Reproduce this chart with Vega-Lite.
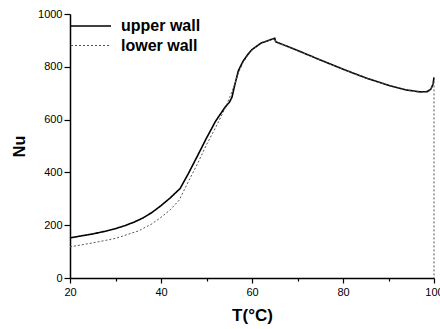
{
  "$schema": "https://vega.github.io/schema/vega-lite/v6.json",
  "autosize": "none",
  "width": 364,
  "height": 264,
  "padding": {"left": 70, "top": 14, "right": 6, "bottom": 51},
  "background": "white",
  "config": {
    "view": {"stroke": null},
    "font": "Liberation Sans"
  },
  "datasets": {
    "curves": [
      {"series": "upper wall", "T": 20, "Nu": 152},
      {"series": "upper wall", "T": 22, "Nu": 158},
      {"series": "upper wall", "T": 25, "Nu": 167},
      {"series": "upper wall", "T": 28, "Nu": 178},
      {"series": "upper wall", "T": 30, "Nu": 187},
      {"series": "upper wall", "T": 32, "Nu": 198},
      {"series": "upper wall", "T": 34, "Nu": 211},
      {"series": "upper wall", "T": 36, "Nu": 227},
      {"series": "upper wall", "T": 38, "Nu": 248},
      {"series": "upper wall", "T": 40, "Nu": 274},
      {"series": "upper wall", "T": 42, "Nu": 303},
      {"series": "upper wall", "T": 44.2, "Nu": 339},
      {"series": "upper wall", "T": 46, "Nu": 395},
      {"series": "upper wall", "T": 48, "Nu": 462},
      {"series": "upper wall", "T": 50, "Nu": 530},
      {"series": "upper wall", "T": 52, "Nu": 594},
      {"series": "upper wall", "T": 54, "Nu": 645},
      {"series": "upper wall", "T": 55, "Nu": 665},
      {"series": "upper wall", "T": 55.6, "Nu": 685},
      {"series": "upper wall", "T": 56.2, "Nu": 730},
      {"series": "upper wall", "T": 57, "Nu": 785},
      {"series": "upper wall", "T": 58, "Nu": 820},
      {"series": "upper wall", "T": 59, "Nu": 845},
      {"series": "upper wall", "T": 60, "Nu": 865},
      {"series": "upper wall", "T": 62, "Nu": 890},
      {"series": "upper wall", "T": 64, "Nu": 902},
      {"series": "upper wall", "T": 65, "Nu": 908},
      {"series": "upper wall", "T": 65.2, "Nu": 895},
      {"series": "upper wall", "T": 70, "Nu": 862},
      {"series": "upper wall", "T": 75, "Nu": 826},
      {"series": "upper wall", "T": 80, "Nu": 791},
      {"series": "upper wall", "T": 85, "Nu": 758},
      {"series": "upper wall", "T": 90, "Nu": 730},
      {"series": "upper wall", "T": 94, "Nu": 712},
      {"series": "upper wall", "T": 97, "Nu": 705},
      {"series": "upper wall", "T": 98.5, "Nu": 706},
      {"series": "upper wall", "T": 99.3, "Nu": 715},
      {"series": "upper wall", "T": 99.8, "Nu": 735},
      {"series": "upper wall", "T": 100, "Nu": 760},
      {"series": "lower wall", "T": 20, "Nu": 118},
      {"series": "lower wall", "T": 25, "Nu": 133},
      {"series": "lower wall", "T": 30, "Nu": 150},
      {"series": "lower wall", "T": 35, "Nu": 178},
      {"series": "lower wall", "T": 38, "Nu": 205},
      {"series": "lower wall", "T": 40, "Nu": 230},
      {"series": "lower wall", "T": 42, "Nu": 258},
      {"series": "lower wall", "T": 44, "Nu": 295},
      {"series": "lower wall", "T": 46, "Nu": 365},
      {"series": "lower wall", "T": 48, "Nu": 432},
      {"series": "lower wall", "T": 50, "Nu": 505},
      {"series": "lower wall", "T": 52, "Nu": 570},
      {"series": "lower wall", "T": 54, "Nu": 640},
      {"series": "lower wall", "T": 55, "Nu": 680},
      {"series": "lower wall", "T": 56, "Nu": 725},
      {"series": "lower wall", "T": 57, "Nu": 775},
      {"series": "lower wall", "T": 58, "Nu": 815},
      {"series": "lower wall", "T": 59, "Nu": 842},
      {"series": "lower wall", "T": 60, "Nu": 863},
      {"series": "lower wall", "T": 62, "Nu": 889},
      {"series": "lower wall", "T": 64, "Nu": 901},
      {"series": "lower wall", "T": 65, "Nu": 906},
      {"series": "lower wall", "T": 65.2, "Nu": 894},
      {"series": "lower wall", "T": 70, "Nu": 861},
      {"series": "lower wall", "T": 75, "Nu": 825},
      {"series": "lower wall", "T": 80, "Nu": 790},
      {"series": "lower wall", "T": 85, "Nu": 757},
      {"series": "lower wall", "T": 90, "Nu": 729},
      {"series": "lower wall", "T": 94, "Nu": 711},
      {"series": "lower wall", "T": 97, "Nu": 704},
      {"series": "lower wall", "T": 98.5, "Nu": 705},
      {"series": "lower wall", "T": 99.3, "Nu": 712},
      {"series": "lower wall", "T": 99.7, "Nu": 730},
      {"series": "lower wall", "T": 100, "Nu": 745},
      {"series": "lower wall", "T": 100.0001, "Nu": 0}
    ]
  },
  "layer": [
    {
      "mark": {"type": "rule", "color": "#333", "strokeWidth": 1.5},
      "encoding": {"y": {"datum": 1000, "type": "quantitative"}}
    },
    {
      "mark": {"type": "rule", "color": "#333", "strokeWidth": 1.5},
      "encoding": {
        "x": {"datum": 100, "type": "quantitative"},
        "y": {"datum": 760, "type": "quantitative"},
        "y2": {"datum": 1000}
      }
    },
    {
      "data": {"name": "curves"},
      "mark": {"type": "line", "clip": false},
      "encoding": {
        "x": {
          "field": "T",
          "type": "quantitative",
          "scale": {"domain": [20, 100], "nice": false, "zero": false, "clamp": true},
          "axis": {
            "values": [20, 30, 40, 50, 60, 70, 80, 90, 100],
            "labelExpr": "datum.value % 20 === 0 ? datum.label : ''",
            "tickSize": {"condition": {"test": "datum.value % 20 === 0", "value": 5}, "value": 3},
            "tickColor": "black",
            "tickWidth": 1.2,
            "domainColor": "black",
            "domainWidth": 1.5,
            "grid": false,
            "labelFontSize": 11,
            "labelColor": "black",
            "labelPadding": 3,
            "labelFlush": false,
            "labelOverlap": false,
            "title": "T(°C)",
            "titleFontSize": 17,
            "titleFontWeight": "bold",
            "titleColor": "black",
            "titlePadding": 10
          }
        },
        "y": {
          "field": "Nu",
          "type": "quantitative",
          "scale": {"domain": [0, 1000], "nice": false},
          "axis": {
            "values": [0, 100, 200, 300, 400, 500, 600, 700, 800, 900, 1000],
            "labelExpr": "datum.value % 200 === 0 ? datum.label : ''",
            "format": "d",
            "tickSize": {"condition": {"test": "datum.value % 200 === 0", "value": 6}, "value": 3},
            "tickColor": "black",
            "tickWidth": 1.2,
            "domainColor": "black",
            "domainWidth": 1.5,
            "grid": false,
            "labelFontSize": 11,
            "labelColor": "black",
            "labelPadding": 2,
            "labelOverlap": false,
            "title": "Nu",
            "titleFontSize": 16,
            "titleFontWeight": "bold",
            "titleColor": "black",
            "titlePadding": 10
          }
        },
        "color": {
          "field": "series",
          "type": "nominal",
          "scale": {"domain": ["upper wall", "lower wall"], "range": ["#000000", "#555555"]},
          "legend": {
            "title": null,
            "orient": "none",
            "legendX": 12,
            "legendY": 3,
            "padding": 0,
            "symbolType": "M-2.5,0H2.5",
            "symbolSize": 256,
            "labelFontSize": 16,
            "labelFontWeight": "bold",
            "labelColor": "black",
            "labelOffset": 21,
            "rowPadding": 3
          }
        },
        "strokeDash": {
          "field": "series",
          "type": "nominal",
          "scale": {"domain": ["upper wall", "lower wall"], "range": [[1, 0], [2, 2]]}
        },
        "strokeWidth": {
          "field": "series",
          "type": "nominal",
          "scale": {"domain": ["upper wall", "lower wall"], "range": [1.6, 1]}
        }
      }
    }
  ]
}
